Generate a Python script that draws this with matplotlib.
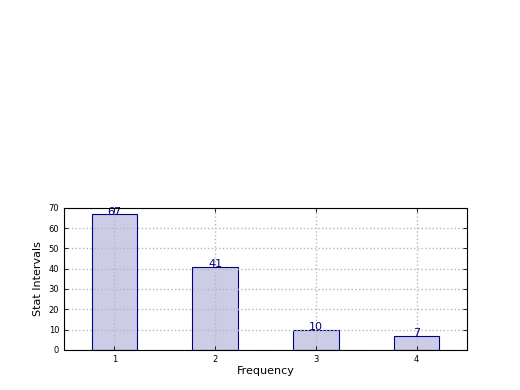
import matplotlib
matplotlib.use('Agg')
import matplotlib.pyplot as plt

freq = [1, 2, 3, 4]
counts = [67, 41, 10, 7]
yticks = [0, 10, 20, 30, 40, 50, 60, 70]

fig = plt.figure(figsize=(5.2, 3.9), dpi=100, facecolor='white')
ax = fig.add_axes([0.123, 0.103, 0.775, 0.364])

bars = ax.bar(freq, counts, width=0.45, align='center',
              color=(0.8, 0.8, 0.9), edgecolor='navy', linewidth=0.8, zorder=1)
for x, v in zip(freq, counts):
    ax.annotate(str(v), (x, v), xytext=(0, -2), textcoords='offset points',
                ha='center', va='bottom', color='navy', fontsize=8)

ax.set_xlim(0.5, 4.5)
ax.set_ylim(0, 70)
ax.set_xticks(freq)
ax.set_yticks(yticks)
ax.tick_params(labelsize=6, direction='in', top=True, right=True, length=3, width=0.6)
ax.grid(True, linestyle=':', color='0.72', linewidth=1)
ax.set_axisbelow(False)
for s in ax.spines.values():
    s.set_linewidth(0.8)
    s.set_zorder(5)
ax.set_xlabel('Frequency', fontsize=8, labelpad=2)
ax.set_ylabel('Stat Intervals', fontsize=8, labelpad=4)

fig.savefig('out.png', dpi=100, facecolor='white')
